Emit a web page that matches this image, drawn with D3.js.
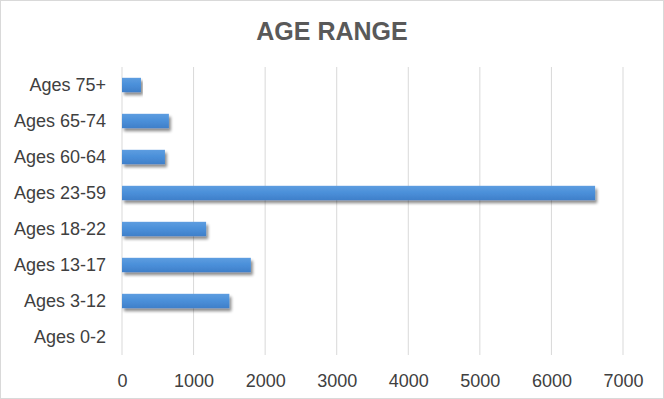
<!DOCTYPE html>
<html>
<head>
<meta charset="utf-8">
<script src="https://cdn.jsdelivr.net/npm/d3@7"></script>
<style>
  body { margin: 0; background: #fff; }
  svg { display: block; font-family: "Liberation Sans", Arial, sans-serif; }
</style>
</head>
<body>
<svg></svg>
<script>
var categories = ['Ages 75+', 'Ages 65-74', 'Ages 60-64', 'Ages 23-59', 'Ages 18-22', 'Ages 13-17', 'Ages 3-12', 'Ages 0-2'];
var values = [265, 655, 600, 6610, 1175, 1800, 1500, 0];
var ticks = [0, 1000, 2000, 3000, 4000, 5000, 6000, 7000];

var W = 664, H = 399;
var svg = d3.select('svg').attr('width', W).attr('height', H);

var defs = svg.append('defs');
var grad = defs.append('linearGradient')
    .attr('id', 'barGrad')
    .attr('x1', 0).attr('y1', 0).attr('x2', 0).attr('y2', 1);
grad.append('stop').attr('offset', '0%').attr('stop-color', '#5d9de0');
grad.append('stop').attr('offset', '50%').attr('stop-color', '#4a8fd9');
grad.append('stop').attr('offset', '100%').attr('stop-color', '#3f7fc9');

var shadow = defs.append('filter').attr('id', 'shadow')
    .attr('x', '-5%').attr('y', '-40%').attr('width', '115%').attr('height', '200%');
shadow.append('feGaussianBlur').attr('in', 'SourceAlpha').attr('stdDeviation', 1.6);
shadow.append('feOffset').attr('dx', 2).attr('dy', 2.5).attr('result', 'off');
shadow.append('feComponentTransfer').append('feFuncA').attr('type', 'linear').attr('slope', 0.45);
var merge = shadow.append('feMerge');
merge.append('feMergeNode');
merge.append('feMergeNode').attr('in', 'SourceGraphic');

// outer border
svg.append('rect')
    .attr('x', 0.5).attr('y', 0.5)
    .attr('width', W - 1).attr('height', H - 1)
    .attr('fill', '#fff')
    .attr('stroke', '#d9d9d9');

var x = d3.scaleLinear().domain([0, 7000]).range([122, 623]);
var y = d3.scaleBand().domain(categories).range([67, 355]).paddingInner(0.6).paddingOuter(0.3);

// gridlines
svg.append('g')
    .selectAll('line')
    .data(ticks)
    .join('line')
    .attr('x1', function (d) { return x(d); })
    .attr('x2', function (d) { return x(d); })
    .attr('y1', 67)
    .attr('y2', 355)
    .attr('stroke', '#d9d9d9')
    .attr('stroke-width', 1);

// bars
svg.append('g')
    .selectAll('rect')
    .data(values)
    .join('rect')
    .attr('x', x(0))
    .attr('y', function (d, i) { return y(categories[i]); })
    .attr('width', function (d) { return x(d) - x(0); })
    .attr('height', y.bandwidth())
    .attr('fill', 'url(#barGrad)')
    .style('filter', 'url(#shadow)');

// x axis labels
var xAxis = svg.append('g')
    .attr('transform', 'translate(0,' + 355 + ')')
    .call(d3.axisBottom(x).tickValues(ticks).tickFormat(d3.format('d')).tickSize(0).tickPadding(19));
xAxis.select('.domain').remove();
xAxis.selectAll('text')
    .attr('fill', '#404040')
    .style('font-size', '18px');

// y axis labels
var yAxis = svg.append('g')
    .attr('transform', 'translate(' + 122 + ',0)')
    .call(d3.axisLeft(y).tickSize(0).tickPadding(16));
yAxis.select('.domain').remove();
yAxis.selectAll('text')
    .attr('fill', '#404040')
    .style('font-size', '18px');

svg.append('text')
    .text('AGE RANGE')
    .attr('x', 332)
    .attr('y', 40)
    .attr('text-anchor', 'middle')
    .attr('fill', '#595959')
    .style('font-size', '25px')
    .style('font-weight', 'bold');
</script>
</body>
</html>
